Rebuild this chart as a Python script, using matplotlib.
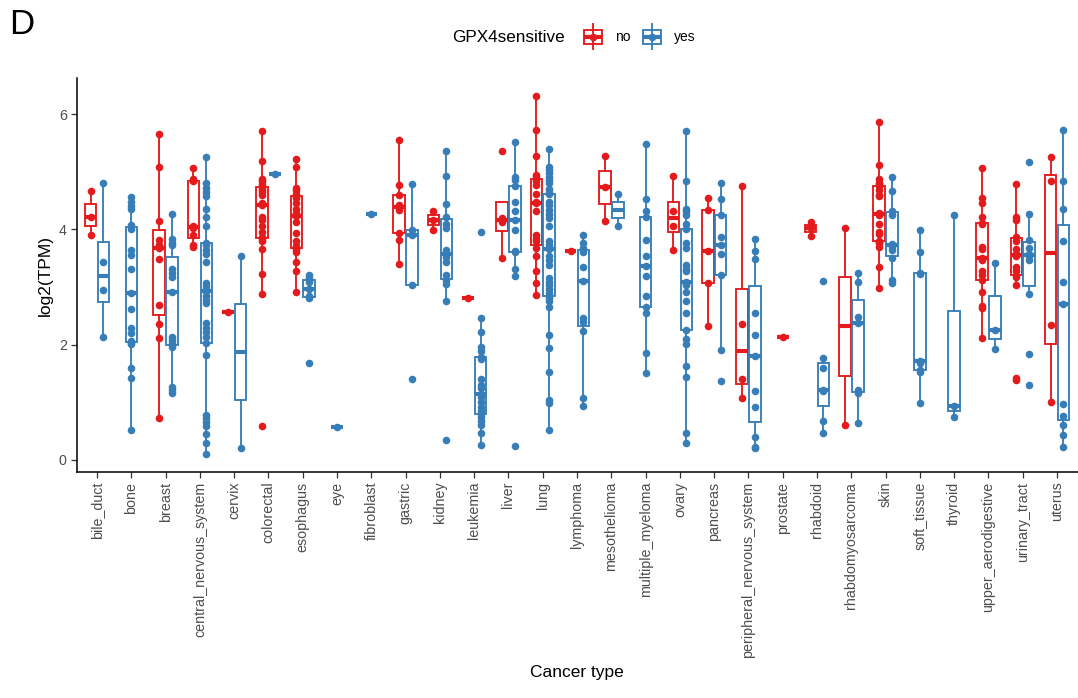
import numpy as np
import matplotlib
matplotlib.use("Agg")
import matplotlib.pyplot as plt
from matplotlib.lines import Line2D
from matplotlib.patches import Rectangle

plt.rcParams['font.family'] = ['Liberation Sans', 'DejaVu Sans']

categories = ["bile_duct", "bone", "breast", "central_nervous_system", "cervix",
              "colorectal", "esophagus", "eye", "fibroblast", "gastric", "kidney",
              "leukemia", "liver", "lung", "lymphoma", "mesothelioma",
              "multiple_myeloma", "ovary", "pancreas", "peripheral_nervous_system",
              "prostate", "rhabdoid", "rhabdomyosarcoma", "skin", "soft_tissue",
              "thyroid", "upper_aerodigestive", "urinary_tract", "uterus"]

# GPX4 expression, log2(TPM), per cell line; "no" / "yes" = GPX4 sensitive
bile_duct_no = [4.66, 4.22, 3.90]
bile_duct_yes = [4.80, 3.44, 2.95, 2.14]
bone_no = []
bone_yes = [4.56, 4.48, 4.40, 4.35, 4.07, 4.01, 3.64, 3.55, 3.32, 2.89, 2.61,
            2.28, 2.20, 2.06, 2.02, 2.01, 1.59, 1.42, 0.52]
breast_no = [5.65, 5.08, 4.15, 3.81, 3.72, 3.67, 3.49, 2.69, 2.35, 2.12, 0.73]
breast_yes = [4.27, 3.83, 3.77, 3.73, 3.31, 3.24, 3.18, 2.91, 2.14, 2.08, 2.02,
              1.96, 1.27, 1.21, 1.16]
cns_no = [5.06, 4.87, 4.83, 4.05, 4.02, 3.90, 3.73, 3.70]
cns_yes = [5.26, 4.80, 4.72, 4.64, 4.57, 4.35, 4.22, 4.06, 3.76, 3.72, 3.64,
           3.58, 3.44, 3.06, 3.01, 2.96, 2.93, 2.84, 2.77, 2.73, 2.38, 2.28,
           2.21, 2.14, 2.02, 1.82, 0.78, 0.72, 0.66, 0.58, 0.45, 0.30, 0.10]
cervix_no = [2.56]
cervix_yes = [3.54, 0.20]
colorectal_no = [5.71, 5.18, 4.87, 4.83, 4.79, 4.75, 4.72, 4.68, 4.65, 4.60,
                 4.45, 4.42, 4.22, 4.16, 4.05, 3.96, 3.87, 3.84, 3.80, 3.65,
                 3.22, 2.87, 0.59]
colorectal_yes = [4.96]
esophagus_no = [5.22, 5.08, 4.72, 4.68, 4.62, 4.57, 4.54, 4.46, 4.36, 4.28,
                4.23, 4.13, 3.93, 3.80, 3.71, 3.67, 3.65, 3.60, 3.44, 3.27, 2.91]
esophagus_yes = [3.21, 3.16, 3.09, 2.96, 2.84, 2.80, 1.68]
eye_no = []
eye_yes = [0.57]
fibroblast_no = []
fibroblast_yes = [4.27]
gastric_no = [5.55, 4.77, 4.60, 4.42, 4.38, 4.34, 3.93, 3.81, 3.40]
gastric_yes = [4.79, 3.99, 3.91, 3.03, 1.40]
kidney_no = [4.32, 4.16, 3.98]
kidney_yes = [5.36, 4.92, 4.44, 4.22, 4.09, 4.02, 3.64, 3.52, 3.43, 3.21, 3.12,
              3.05, 2.76, 0.34]
leukemia_no = [2.81]
leukemia_yes = [3.96, 2.46, 2.21, 1.95, 1.88, 1.79, 1.75, 1.40, 1.30, 1.24,
                1.15, 1.09, 1.01, 0.92, 0.84, 0.80, 0.75, 0.68, 0.61, 0.46, 0.25]
liver_no = [5.36, 4.19, 4.13, 3.51]
liver_yes = [5.52, 4.91, 4.86, 4.75, 4.48, 4.31, 4.17, 3.98, 3.62, 3.60, 3.32,
             3.19, 0.24]
lung_no = [6.32, 5.72, 5.27, 4.94, 4.90, 4.83, 4.77, 4.62, 4.48, 4.45, 4.31,
           3.90, 3.83, 3.80, 3.67, 3.53, 3.27, 3.06, 2.86]
lung_yes = [5.39, 5.09, 5.03, 4.98, 4.91, 4.86, 4.80, 4.70, 4.65, 4.62, 4.48,
            4.42, 4.34, 4.26, 4.19, 4.05, 3.79, 3.73, 3.65, 3.53, 3.47, 3.38,
            3.15, 3.09, 3.03, 2.97, 2.90, 2.85, 2.80, 2.75, 2.66, 2.17, 1.94,
            1.53, 1.04, 0.98, 0.52]
lymphoma_no = [3.63]
lymphoma_yes = [3.91, 3.77, 3.67, 3.61, 3.35, 3.10, 2.46, 2.40, 2.23, 1.08, 0.94]
mesothelioma_no = [5.28, 4.73, 4.15]
mesothelioma_yes = [4.61, 4.06]
multiple_myeloma_no = []
multiple_myeloma_yes = [5.48, 4.52, 4.31, 4.21, 3.81, 3.54, 3.37, 3.19, 2.84,
                        2.66, 2.54, 1.85, 1.51]
ovary_no = [4.93, 4.32, 4.06, 3.64]
ovary_yes = [5.70, 4.84, 4.36, 4.32, 4.25, 4.10, 4.01, 3.77, 3.67, 3.38, 3.32,
             3.28, 3.08, 3.06, 3.03, 2.92, 2.75, 2.55, 2.25, 2.10, 2.01, 1.62,
             1.44, 0.47, 0.30]
pancreas_no = [4.54, 4.34, 3.63, 3.06, 2.33]
pancreas_yes = [4.81, 4.53, 4.25, 3.86, 3.72, 3.58, 3.20, 1.91, 1.37]
pns_no = [4.75, 2.36, 1.40, 1.08]
pns_yes = [3.83, 3.63, 3.48, 2.54, 2.17, 1.80, 1.20, 0.92, 0.39, 0.23, 0.20]
prostate_no = [2.13]
prostate_yes = []
rhabdoid_no = [4.13, 4.02, 3.89]
rhabdoid_yes = [3.10, 1.76, 1.59, 1.22, 1.19, 0.68, 0.46]
rhabdomyosarcoma_no = [4.02, 0.61]
rhabdomyosarcoma_yes = [3.25, 3.09, 2.47, 2.37, 1.21, 1.16, 0.64]
skin_no = [5.86, 5.12, 4.87, 4.81, 4.78, 4.75, 4.68, 4.60, 4.57, 4.28, 4.26,
           4.24, 4.10, 3.96, 3.92, 3.80, 3.78, 3.76, 3.70, 3.35, 2.99]
skin_yes = [4.90, 4.67, 4.31, 4.25, 3.75, 3.70, 3.64, 3.50, 3.12, 3.06]
soft_tissue_no = []
soft_tissue_yes = [3.98, 3.61, 3.25, 3.22, 1.72, 1.68, 1.56, 1.52, 0.98]
thyroid_no = []
thyroid_yes = [4.24, 0.94, 0.75]
upper_aerodigestive_no = [5.07, 4.54, 4.45, 4.21, 4.11, 4.09, 3.70, 3.65, 3.51,
                          3.47, 3.27, 3.21, 3.12, 2.91, 2.67, 2.63, 2.11]
upper_aerodigestive_yes = [3.41, 2.26, 1.92]
urinary_tract_no = [4.78, 4.22, 4.17, 3.87, 3.79, 3.65, 3.58, 3.53, 3.35, 3.27,
                    3.18, 3.03, 1.42, 1.39]
urinary_tract_yes = [5.16, 4.27, 3.81, 3.67, 3.58, 3.53, 3.47, 2.87, 1.84, 1.30]
uterus_no = [5.25, 4.84, 2.34, 1.01]
uterus_yes = [5.72, 4.84, 4.36, 3.80, 3.09, 2.70, 0.97, 0.76, 0.61, 0.43, 0.23]

values_no = [bile_duct_no, bone_no, breast_no, cns_no, cervix_no, colorectal_no,
             esophagus_no, eye_no, fibroblast_no, gastric_no, kidney_no,
             leukemia_no, liver_no, lung_no, lymphoma_no, mesothelioma_no,
             multiple_myeloma_no, ovary_no, pancreas_no, pns_no, prostate_no,
             rhabdoid_no, rhabdomyosarcoma_no, skin_no, soft_tissue_no,
             thyroid_no, upper_aerodigestive_no, urinary_tract_no, uterus_no]
values_yes = [bile_duct_yes, bone_yes, breast_yes, cns_yes, cervix_yes,
              colorectal_yes, esophagus_yes, eye_yes, fibroblast_yes,
              gastric_yes, kidney_yes, leukemia_yes, liver_yes, lung_yes,
              lymphoma_yes, mesothelioma_yes, multiple_myeloma_yes, ovary_yes,
              pancreas_yes, pns_yes, prostate_yes, rhabdoid_yes,
              rhabdomyosarcoma_yes, skin_yes, soft_tissue_yes, thyroid_yes,
              upper_aerodigestive_yes, urinary_tract_yes, uterus_yes]

group_labels = ["no", "yes"]
group_colors = ["#E41A1C", "#377EB8"]

W, H = 1078, 698
fig = plt.figure(figsize=(W / 100, H / 100), dpi=100)


def fx(px):
    return px / W


def fy(py):
    return 1 - py / H


ax = fig.add_axes([fx(76.5), fy(472), fx(1077.6) - fx(76.5), fy(77.7) - fy(472)])

LW = 1.35
slot = 0.375
box_w = slot * 0.9

for i, groups in enumerate(zip(values_no, values_yes)):
    present = [(vals, group_colors[g]) for g, vals in enumerate(groups) if len(vals)]
    offsets = [0.0] if len(present) == 1 else [-slot / 2, slot / 2]
    for (vals, col), off in zip(present, offsets):
        pos = i + off
        ax.boxplot([vals], positions=[pos], widths=box_w, whis=1.5,
                   showfliers=False, showcaps=False, patch_artist=True,
                   manage_ticks=False,
                   boxprops=dict(facecolor="white", edgecolor=col, linewidth=LW),
                   whiskerprops=dict(color=col, linewidth=LW),
                   medianprops=dict(color=col, linewidth=LW * 2.2,
                                    solid_capstyle="butt"),
                   zorder=2)
        ax.scatter(np.full(len(vals), pos), vals, s=30, color=col,
                   linewidths=0, zorder=3)

all_vals = np.concatenate([np.asarray(v, float) for v in values_no + values_yes if len(v)])
lo, hi = all_vals.min(), all_vals.max()
pad = 0.05 * (hi - lo)
ax.set_ylim(lo - pad, hi + pad)
ax.set_xlim(-0.6, len(categories) - 0.4)

ax.set_yticks([0, 2, 4, 6])
ax.set_xticks(range(len(categories)))
ax.set_xticklabels(categories, rotation=90, ha="center", va="top")
ax.tick_params(axis="both", colors="#333333", labelcolor="#4D4D4D",
               length=4, width=0.9, labelsize=10.3, pad=3)
for side in ("top", "right"):
    ax.spines[side].set_visible(False)
for side in ("left", "bottom"):
    ax.spines[side].set_linewidth(1.1)
    ax.spines[side].set_color("black")

fig.text(fx(577), fy(673), "Cancer type", ha="center", va="center", fontsize=12.5)
fig.text(fx(45), fy(275), "log2(TPM)", ha="center", va="center", rotation=90,
         fontsize=12.5)
fig.text(fx(9), fy(25), "D", ha="left", va="center", fontsize=25)

# legend
fig.text(fx(452), fy(37), "GPX4sensitive", ha="left", va="center", fontsize=12.3)
key_x = [593, 652]
for kx, lab, col in zip(key_x, group_labels, group_colors):
    kw, kh = 18, 14
    fig.add_artist(Line2D([fx(kx), fx(kx)], [fy(24), fy(49)], color=col, lw=LW))
    fig.add_artist(Rectangle((fx(kx - kw / 2), fy(37 + kh / 2)), fx(kw), fy(0) - fy(kh),
                             facecolor="white", edgecolor=col, lw=LW))
    fig.add_artist(Line2D([fx(kx - kw / 2), fx(kx + kw / 2)], [fy(37), fy(37)],
                          color=col, lw=LW * 2.2, solid_capstyle="butt"))
    fig.add_artist(Line2D([fx(kx)], [fy(37)], marker="o", markersize=5.5,
                          color=col, markeredgewidth=0))
    fig.text(fx(kx + 22), fy(37), lab, ha="left", va="center", fontsize=10)

fig.savefig("out.png", dpi=100)
